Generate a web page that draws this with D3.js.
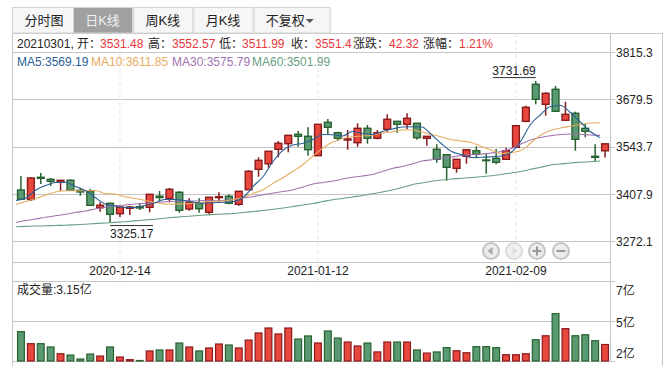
<!DOCTYPE html>
<html>
<head>
<meta charset="utf-8">
<script src="https://cdnjs.cloudflare.com/ajax/libs/d3/7.8.5/d3.min.js"></script>
<style>
html, body { margin: 0; padding: 0; background: #fff; overflow: hidden; }
svg { display: block; }
text { font-family: "Liberation Sans", "Noto Sans CJK SC", sans-serif; font-size: 12px; fill: #222; }
</style>
</head>
<body>
<script>
// values
const opens = [3418.7,3391.4,3455.2,3449.4,3441.7,3446.6,3417.8,3413.8,3367.8,3380.5,3350.6,3366.1,3370.7,3369,3400.9,3394.8,3412.1,3364.1,3382.2,3354.6,3396.6,3400.6,3377.6,3419.5,3478.2,3494.2,3535.7,3551.8,3578.8,3573,3517.3,3613.3,3583.4,3562.4,3554.6,3596,3567.3,3593.2,3616.1,3607.5,3610.4,3567.3,3535.7,3520.1,3481,3515.5,3531.6,3504.9,3509.8,3506.9,3541.4,3616.1,3722.5,3665,3708.1,3619,3639.1,3596,3515.5,3531.48];
const closes = [3392,3453.2,3452.3,3443.7,3446.6,3417.8,3413,3374.7,3374.7,3348.8,3369.8,3369.8,3367,3406.3,3397.1,3420.7,3360.3,3383.3,3364.9,3397.7,3399.4,3380.5,3415,3472.4,3504,3529.9,3552.9,3575.9,3573,3534.5,3607.5,3598.9,3567.3,3565.3,3596,3567.3,3583.4,3621.9,3607.5,3624.8,3569,3573,3506.9,3483.9,3506.9,3534.5,3521.3,3502.9,3498.3,3531.6,3603.5,3656.4,3679.4,3696.6,3644.9,3636.2,3564.4,3587.4,3512.7,3551.4];
const highs = [3458.9,3456,3467.6,3453.2,3447.4,3449.4,3425.3,3421.6,3383.3,3382.2,3369.8,3373.6,3381.3,3407.2,3415.8,3424.4,3415.8,3394.8,3394.8,3397.7,3412.1,3406.3,3415.8,3475.3,3512.7,3529.9,3559.5,3575.9,3588.3,3598.9,3607.5,3622.8,3586.2,3591.1,3610.4,3605.5,3591.1,3636.2,3617,3639.1,3610.4,3573,3550,3520.1,3506.9,3534.5,3544.3,3523,3536.5,3540.3,3605.5,3661,3731.69,3699.5,3717.6,3672.5,3643.7,3609.2,3550,3552.57];
const lows = [3391.4,3387.1,3435.9,3430.2,3415.8,3417.8,3402.3,3372.7,3356.3,3325.17,3341.1,3346.8,3361.2,3354.6,3387.1,3383.3,3353.5,3359.2,3353.5,3348.8,3383.3,3377.6,3373.6,3419.5,3456.9,3482.8,3512.7,3527,3543.1,3517.3,3517.3,3578.8,3559.5,3534.5,3543.1,3551.8,3564.4,3586.2,3583.4,3593.2,3563.2,3546,3497.2,3445.4,3468.4,3494.3,3509.8,3465.5,3492.6,3506.9,3541.4,3613.3,3665,3632.2,3642.9,3619,3531.6,3570.2,3502,3511.99];
const volumes = [3.93,3.2,3.2,3,2.59,2.51,2.27,2.57,2.45,3,2.39,2.23,2.18,2.76,2.82,2.82,3.24,3,2.76,2.94,3.18,3.12,2.94,3.42,3.85,4.15,3.79,4.15,3.48,3.67,3.24,3.97,3.54,3.3,3.06,3.24,2.7,3.3,3.3,3.3,2.82,2.63,2.7,2.96,2.77,2.65,3.02,3.02,2.96,2.53,2.53,2.59,3.44,3.68,5.02,4.11,3.68,3.74,3.38,3.15];

const ma5 = [3388.5,3395.7,3418.7,3431.6,3440.2,3440.8,3428.8,3417.3,3397.1,3378.5,3372.7,3368.4,3368.4,3374.2,3381.3,3391.4,3391.4,3388.5,3383.3,3380.5,3382.2,3383.3,3385.6,3398.6,3430.2,3458.9,3502,3533.7,3548,3552.9,3563.8,3578.2,3577.3,3573.9,3586.8,3581.1,3578.2,3586.8,3594,3599.8,3600.6,3599.8,3576.8,3550.9,3529.3,3520.7,3512.1,3512.7,3514.4,3516.4,3526.5,3559.5,3608.4,3635.7,3658.7,3661.5,3641.4,3614.1,3586.8,3569.19];
const ma10 = [3377,3385.6,3394.2,3404.3,3412.9,3416.4,3416.7,3416.7,3417.3,3408.6,3407.2,3399.5,3394.2,3389.1,3383.3,3378.5,3377.6,3379,3381.3,3383.3,3386.5,3387.1,3391.4,3397.7,3409.2,3420.1,3438.8,3454.6,3473.3,3492,3516.4,3539.4,3556.6,3566.7,3571.6,3573.9,3576.8,3582.5,3585.4,3591.1,3591.1,3585.4,3578.2,3571,3563.2,3559.5,3555.2,3543.7,3533.7,3523.6,3526.5,3532.2,3553.8,3576.8,3589.7,3596.9,3601.8,3606.9,3611.2,3611.85];
const ma30 = [3325.3,3331,3335.3,3340.5,3344.5,3349.1,3354,3358.3,3364.1,3369.3,3373.3,3375.6,3378.5,3380.8,3382.8,3384.8,3386.2,3387.1,3387.1,3388.5,3387.6,3389.1,3391.4,3395.7,3400,3405.2,3410.1,3414.4,3419.5,3427.3,3435.9,3440.2,3444.5,3450.3,3455.2,3458.9,3463.2,3471.9,3480.5,3486.2,3493.4,3502,3505.8,3509.8,3513.5,3517.8,3519.9,3522.2,3525,3529.3,3537.4,3550.9,3562.4,3569.6,3574.8,3578.2,3579.6,3578.8,3576.8,3575.79];
const ma60 = [3313.2,3314.1,3315,3315.8,3316.7,3317.5,3319,3320.4,3322.1,3323.8,3325.6,3327.6,3329.9,3332.5,3334.8,3337.6,3340,3342.3,3344.5,3346.8,3348.3,3349.7,3351.2,3354,3356.9,3359.8,3363.2,3367,3371.3,3375.6,3379.9,3385.6,3390.8,3394.2,3398.6,3402.9,3407.8,3413,3418.7,3425.9,3433.9,3438.8,3444,3447.4,3450.3,3452.3,3454.6,3456.9,3459.8,3463.2,3467.6,3471.9,3478.2,3483.9,3490.5,3493.4,3496.3,3498.3,3500,3501.99];

const priceTicks = [3815.3, 3679.5, 3543.7, 3407.9, 3272.1];
const volTicks = [7, 4.575, 2.15];
const volTickLabels = ["7亿", "5亿", "2亿"];
const dateIdx = [10, 30, 50];
const dateLabels = ["2020-12-14", "2021-01-12", "2021-02-09"];
const tabs = ["分时图", "日K线", "周K线", "月K线", "不复权"];

const upFill = "#e8473d", upLine = "#8a1a1c", downFill = "#5a9a72", downLine = "#27622f";
const gridCol = "#c6c6c6";

let width = 669, height = 372;
let svg = d3.select("body").append("svg").attr("width", width).attr("height", height);

let left = 12, plotRight = 610, outerRight = 662, top0 = 33;
let idx = d3.range(opens.length);

let x = d3.scaleBand().domain(idx).range([16, plotRight]);
let y = d3.scaleLinear().domain([3272.1, 3815.3]).range([241, 52]);
let yVol = d3.scaleLinear().domain([2.15, 7]).range([361, 281]);
let cx = i => x(i) + x.bandwidth() / 2;

// frame and grid
function hline(yy, x2) {
    svg.append("line").attr("x1", left).attr("x2", x2).attr("y1", yy).attr("y2", yy)
        .attr("stroke", gridCol).attr("stroke-width", 1);
}
function vline(xx, y1, y2) {
    svg.append("line").attr("x1", xx).attr("x2", xx).attr("y1", y1).attr("y2", y2)
        .attr("stroke", gridCol).attr("stroke-width", 1);
}
hline(top0 + .5, outerRight);
vline(left + .5, top0, 366);
vline(plotRight + .5, top0, 361);
vline(outerRight + .5, top0, 366);
priceTicks.forEach(t => hline(Math.round(y(t)) + .5, plotRight + 5));
hline(262.5, plotRight);
volTicks.forEach(t => hline(Math.round(yVol(t)) + .5, plotRight + 5));

// date guide lines
dateIdx.forEach(i => {
    svg.append("line").attr("x1", cx(i)).attr("x2", cx(i)).attr("y1", top0).attr("y2", 281)
        .attr("stroke", "#e4e4e4").attr("stroke-dasharray", "4,3");
});

// tabs
let tabX = d3.scaleLinear().domain([0, 4]).range([left, 253]);
let tabW = [64, 59, 59, 59, 76];
tabs.forEach((t, i) => {
    let tx = tabX(i) + (i == 0 ? 0 : 0.75);
    let g = svg.append("g");
    g.append("rect").attr("x", tx + .5).attr("y", 7.5).attr("width", tabW[i]).attr("height", 25.5)
        .attr("fill", i == 1 ? "#a0a0a0" : "#f6f6f6").attr("stroke", "#d4d4d4");
    let label = g.append("text").attr("y", 25).style("font-size", "13px")
        .style("fill", i == 1 ? "#f0f0f0" : "#222").text(t);
    if (i == 4) {
        label.attr("x", tx + 12);
        g.append("path").attr("d", `M${tx + 52},19 h8 l-4,4 z`).attr("fill", "#555");
    } else {
        label.attr("x", tx + tabW[i] / 2).attr("text-anchor", "middle");
    }
});

// info rows
let infoRow = [
    [17, "20210301, 开：", "#222"], [100, "3531.48", "#e8373a"], [148, "高：", "#222"], [172, "3552.57", "#e8373a"],
    [219, "低：", "#222"], [242, "3511.99", "#e8373a"], [291, "收：", "#222"], [315, "3551.4", "#e8373a"],
    [353, "涨跌：", "#222"], [389, "42.32", "#e8373a"], [423, "涨幅：", "#222"], [459, "1.21%", "#e8373a"]
];
infoRow.forEach(d => svg.append("text").attr("x", d[0]).attr("y", 48).style("fill", d[2]).text(d[1]));
hline(52.5, plotRight);

let maInfo = [
    {x: 17, name: "MA5", vals: ma5, col: "#2b6096"},
    {x: 91, name: "MA10", vals: ma10, col: "#e6ab5c"},
    {x: 172, name: "MA30", vals: ma30, col: "#9f72b0"},
    {x: 252, name: "MA60", vals: ma60, col: "#669f80"}
];
maInfo.forEach(m => {
    svg.append("text").attr("x", m.x).attr("y", 66).style("fill", m.col)
        .text(`${m.name}:${d3.format(".2f")(m.vals[m.vals.length - 1])}`);
});

// candles
let candles = svg.append("g").selectAll("g").data(idx).enter().append("g");
candles.append("line")
    .attr("x1", cx).attr("x2", cx)
    .attr("y1", i => y(highs[i])).attr("y2", i => y(lows[i]))
    .attr("stroke", i => closes[i] >= opens[i] ? upLine : downLine)
    .attr("stroke-width", 1.5);
candles.append("rect")
    .attr("x", i => cx(i) - 3.4).attr("width", 6.8)
    .attr("y", i => y(Math.max(opens[i], closes[i])))
    .attr("height", i => Math.abs(y(opens[i]) - y(closes[i])))
    .attr("fill", i => closes[i] >= opens[i] ? upFill : downFill)
    .attr("stroke", i => closes[i] >= opens[i] ? upLine : downLine)
    .attr("stroke-width", 1.4);

// moving averages, drawn from the band start like the original
let line = d3.line().x((d, i) => x(i)).y(d => y(d)).curve(d3.curveMonotoneX);
maInfo.slice().reverse().forEach(m => {
    svg.append("path").attr("d", line(m.vals)).attr("fill", "none")
        .attr("stroke", m.col).attr("stroke-width", 1.1);
});

// high and low notes, high one sits to the left of its candle
let hiI = highs.indexOf(d3.max(highs)), loI = lows.indexOf(d3.min(lows));
svg.append("text").attr("x", cx(hiI)).attr("y", y(highs[hiI]) - 6).attr("text-anchor", "end")
    .text(d3.format(".2f")(highs[hiI]));
svg.append("line").attr("x1", cx(hiI) - 43).attr("x2", cx(hiI))
    .attr("y1", y(highs[hiI]) - 3.5).attr("y2", y(highs[hiI]) - 3.5).attr("stroke", "#333");
svg.append("text").attr("x", cx(loI)).attr("y", y(lows[loI]) + 15)
    .text(d3.format(".2f")(lows[loI]));
svg.append("line").attr("x1", cx(loI)).attr("x2", cx(loI) + 43)
    .attr("y1", y(lows[loI]) + 3).attr("y2", y(lows[loI]) + 3).attr("stroke", "#333");

// right hand axis labels
priceTicks.forEach(t => {
    svg.append("text").attr("x", plotRight + 6).attr("y", y(t)).attr("dy", "0.4em").text(t.toFixed(1));
});
volTicks.forEach((t, i) => {
    svg.append("text").attr("x", plotRight + 6).attr("y", [295, 327, 358][i]).text(volTickLabels[i]);
});

// date labels
dateIdx.forEach((d, i) => {
    svg.append("text").attr("x", cx(d)).attr("y", 275).attr("text-anchor", "middle").text(dateLabels[i]);
});

// zoom buttons
let btnX = [491, 514, 537, 561];
let btnG = svg.append("g");
btnX.forEach((bx, i) => {
    btnG.append("circle").attr("cx", bx).attr("cy", 251).attr("r", 8)
        .attr("fill", i == 1 ? "#f0f0f0" : "#ececec").attr("stroke", i == 1 ? "#dcdcdc" : "#c4c4c4").attr("stroke-width", 2);
});
btnG.append("path").attr("d", "M487.5,251 l5,-4 v8 z").attr("fill", "#aaa");
btnG.append("path").attr("d", "M517.5,251 l-5,-4 v8 z").attr("fill", "#dcdcdc");
btnG.append("path").attr("d", "M532.5,251 h9 M537,246.5 v9 M556.5,251 h9").attr("stroke", "#999").attr("stroke-width", 2);

// volume
svg.append("text").attr("x", 17).attr("y", 294).text("成交量:3.15亿");
svg.append("g").selectAll("rect").data(idx).enter().append("rect")
    .attr("x", i => cx(i) - 3.4).attr("width", 6.8)
    .attr("y", i => yVol(volumes[i]))
    .attr("height", i => yVol.range()[0] - yVol(volumes[i]))
    .attr("fill", i => closes[i] >= opens[i] ? upFill : downFill)
    .attr("stroke", i => closes[i] >= opens[i] ? upLine : downLine)
    .attr("stroke-width", 1.2);
</script>
</body>
</html>
